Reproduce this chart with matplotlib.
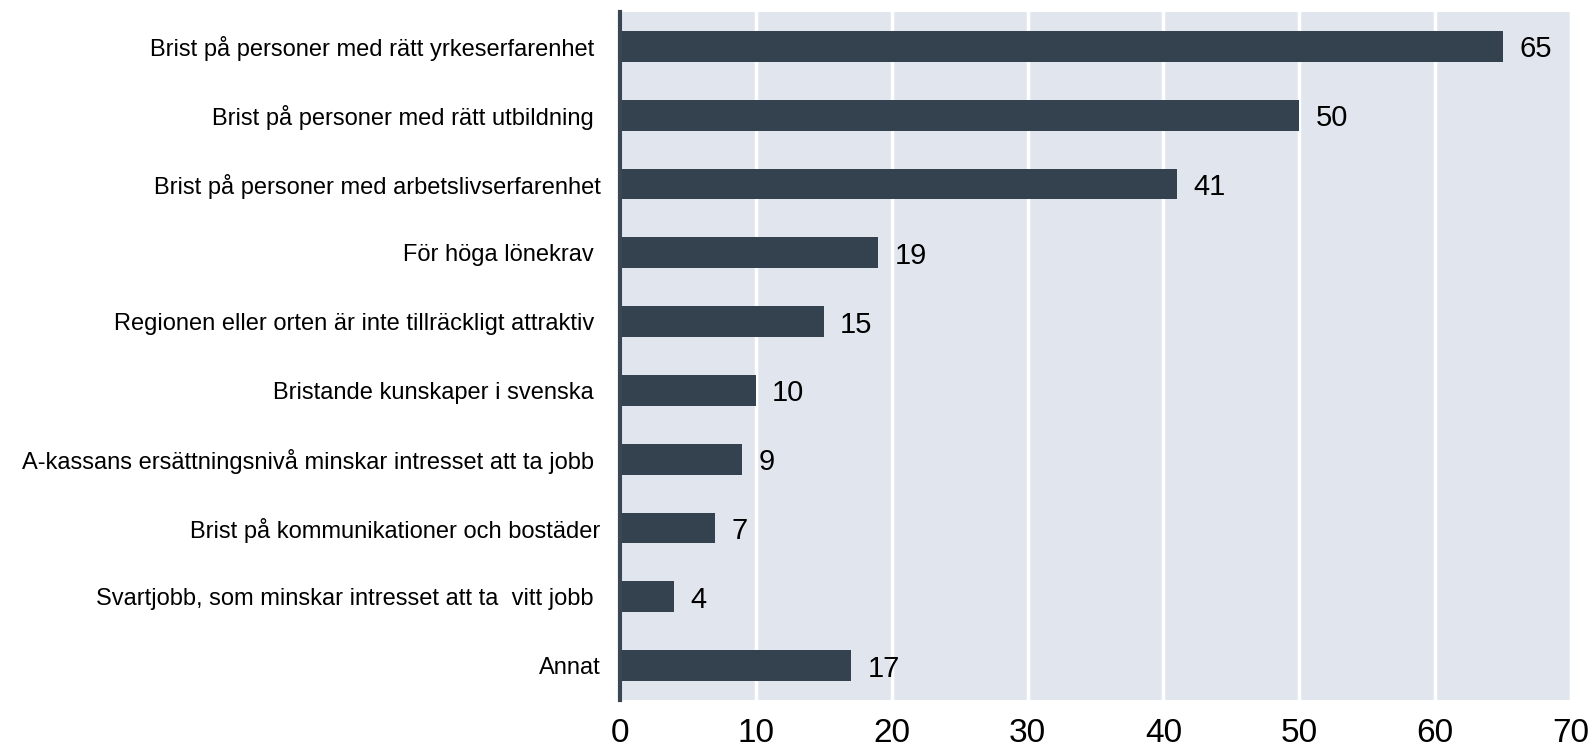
import matplotlib
matplotlib.use('Agg')
import matplotlib.pyplot as plt
import numpy as np

plt.rcParams['font.family'] = ['Liberation Sans', 'DejaVu Sans']

categories = ['Brist på personer med rätt yrkeserfarenhet ',
              'Brist på personer med rätt utbildning ',
              'Brist på personer med arbetslivserfarenhet',
              'För höga lönekrav ',
              'Regionen eller orten är inte tillräckligt attraktiv ',
              'Bristande kunskaper i svenska ',
              'A-kassans ersättningsnivå minskar intresset att ta jobb ',
              'Brist på kommunikationer och bostäder',
              'Svartjobb, som minskar intresset att ta  vitt jobb ',
              'Annat']
values = [65, 50, 41, 19, 15, 10, 9, 7, 4, 17]
xticks = [0, 10, 20, 30, 40, 50, 60, 70]

fig = plt.figure(figsize=(15.95, 7.51), dpi=100)
ax = fig.add_axes([620/1595, 51/751, 951/1595, 688/751])
ax.set_facecolor('#E1E6EE')

y = np.arange(len(categories))
ax.barh(y, values, height=0.45, color='#34414F', zorder=3)
for yi, v in zip(y, values):
    ax.text(v + 1.2, yi, str(v), va='center_baseline', ha='left', fontsize=21,
            color='black', zorder=4)

ax.set_xlim(0, 70)
ax.set_ylim(len(categories) - 0.5, -0.5)
ax.set_yticks(y)
ax.set_yticklabels(categories, fontsize=17)
ax.set_xticks(xticks)
ax.set_xticklabels([str(t) for t in xticks], fontsize=24)
ax.tick_params(axis='both', length=0)
ax.tick_params(axis='x', pad=13)
ax.tick_params(axis='y', pad=14)
ax.grid(axis='x', color='white', linewidth=2.5, zorder=1)
for s in ['top', 'right', 'bottom']:
    ax.spines[s].set_visible(False)
ax.spines['left'].set_color('#3A4654')
ax.spines['left'].set_linewidth(3)
ax.spines['left'].set_zorder(5)

fig.savefig('out.png', dpi=100)
